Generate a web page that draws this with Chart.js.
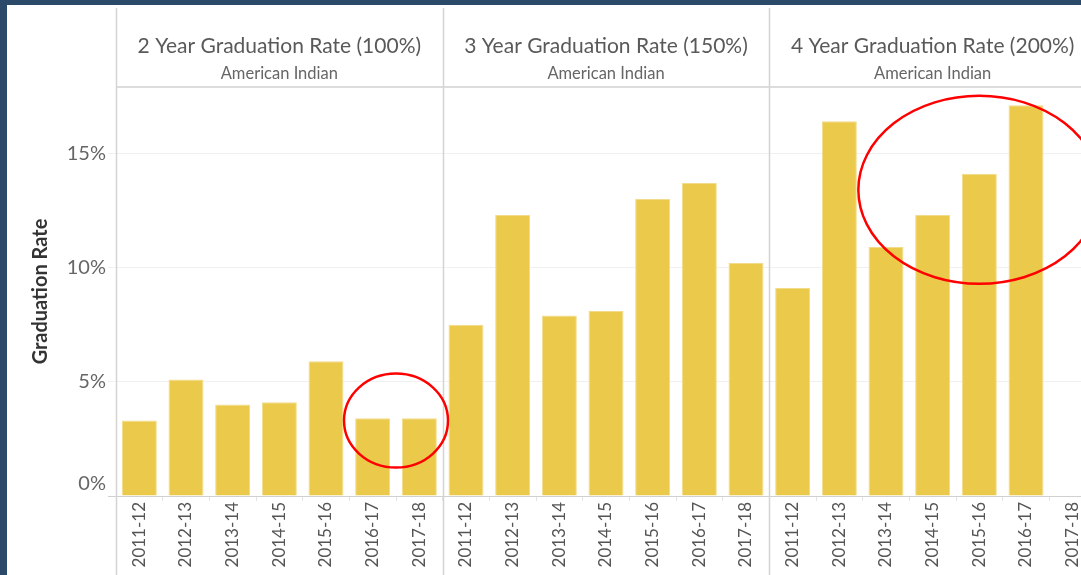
<!DOCTYPE html>
<html>
<head>
<meta charset="utf-8">
<script src="https://cdn.jsdelivr.net/npm/chart.js@4"></script>
<style>
  html, body { margin: 0; padding: 0; background: #2b4a69; overflow: hidden; width: 1081px; height: 575px; }
  #wrap { position: absolute; left: 7px; top: 5px; width: 1100px; height: 570px; background: #fff; }
</style>
</head>
<body>
<div id="wrap"><canvas id="grafica"></canvas></div>
<script>
(function(){

    // datos
    const years = ['2011-12', '2012-13', '2013-14', '2014-15', '2015-16', '2016-17', '2017-18'];
    const rate2yr = [3.3, 5.1, 4.0, 4.1, 5.9, 3.4, 3.4];
    const rate3yr = [7.5, 12.3, 7.9, 8.1, 13.0, 13.7, 10.2];
    const rate4yr = [9.1, 16.4, 10.9, 12.3, 14.1, 17.1, null];
    const panelTitles = ['2 Year Graduation Rate (100%)', '3 Year Graduation Rate (150%)', '4 Year Graduation Rate (200%)'];
    const subgroup = 'American Indian';
    const yTicks = [0, 5, 10, 15];

    const labels = [].concat(years, years, years);
    const values = [].concat(rate2yr, rate3yr, rate4yr);
    const n = years.length;

    const fontFam = 'Lato, "Open Sans", sans-serif';

    // lineas de panel, encabezados y circulos
    const panels = {
        id: 'panels',
        beforeDatasetsDraw(chart) {
            const ctx = chart.ctx, x = chart.scales.x, area = chart.chartArea;
            ctx.save();
            ctx.strokeStyle = '#dcdcdc';
            ctx.lineWidth = 2;
            ctx.beginPath();
            ctx.moveTo(area.left, area.top);
            ctx.lineTo(area.right, area.top);
            ctx.stroke();
            ctx.strokeStyle = '#d4d4d4';
            ctx.lineWidth = 1.5;
            for (let p = 0; p <= panelTitles.length; p++) {
                const px = Math.round(x.getPixelForValue(p * n - 0.5)) + 0.5;
                ctx.beginPath();
                ctx.moveTo(px, 3);
                ctx.lineTo(px, chart.height);
                ctx.stroke();
            }
            ctx.textAlign = 'center';
            ctx.textBaseline = 'middle';
            panelTitles.forEach((t, p) => {
                const cx = x.getPixelForValue(p * n + (n - 1) / 2);
                ctx.fillStyle = '#595959';
                ctx.font = '21px ' + fontFam;
                ctx.fillText(t, cx, 41);
                ctx.fillStyle = '#666';
                ctx.font = '16.5px ' + fontFam;
                ctx.fillText(subgroup, cx, 69);
            });
            ctx.restore();
        },
        afterDatasetsDraw(chart) {
            const ctx = chart.ctx, x = chart.scales.x, y = chart.scales.y;
            ctx.save();
            ctx.strokeStyle = '#f00';
            ctx.lineWidth = 2.5;
            ctx.beginPath();
            ctx.ellipse(x.getPixelForValue(5.5), y.getPixelForValue(3.3), 52, 47, 0, 0, Math.PI * 2);
            ctx.stroke();
            ctx.beginPath();
            ctx.ellipse(x.getPixelForValue(18), y.getPixelForValue(13.4), 121, 94, 0, 0, Math.PI * 2);
            ctx.stroke();
            ctx.restore();
        }
    };

    const ctx = document.getElementById('grafica').getContext('2d');
    const myChart = new Chart(ctx, {
        type: 'bar',
        data: {
            labels: labels,
            datasets: [{
                label: 'Graduation Rate',
                data: values,
                backgroundColor: '#ebc94a',
                borderColor: '#f1dc8c',
                borderWidth: 1,
                categoryPercentage: 1,
                barPercentage: 0.75
            }]
        },
        options: {
            responsive: true,
            maintainAspectRatio: false,
            animation: false,
            layout: { padding: { top: 82, right: 11, left: 0, bottom: 0 } },
            scales: {
                x: {
                    afterFit(scale) { scale.height = 79; },
                    grid: {
                        color: c => 'transparent',
                        tickColor: '#e4e4e4',
                        tickLength: 5
                    },
                    border: { color: '#d0d0d0' },
                    ticks: {
                        autoSkip: false,
                        minRotation: 90,
                        maxRotation: 90,
                        padding: 1,
                        color: '#555',
                        font: { family: fontFam, size: 17 }
                    }
                },
                y: {
                    min: 0,
                    max: 17.9,
                    afterFit(scale) { scale.width = 109; },
                    afterBuildTicks(scale) { scale.ticks = yTicks.map(v => ({ value: v })); },
                    grid: {
                        color: c => c.tick && c.tick.value === 0 ? '#d0d0d0' : '#f0f0f0',
                        tickLength: 8
                    },
                    border: { display: false },
                    title: {
                        display: true,
                        text: 'Graduation Rate',
                        color: '#333',
                        font: { family: fontFam, size: 20, weight: 'bold' },
                        padding: { top: 22, bottom: 0 }
                    },
                    ticks: {
                        padding: 2,
                        color: '#666',
                        font: { family: fontFam, size: 20 },
                        callback: v => v === 0 ? ['0%', ''] : v + '%'
                    }
                }
            },
            plugins: {
                legend: { display: false },
                tooltip: { enabled: false }
            }
        },
        plugins: [panels]
    });

})();
</script>
</body>
</html>
